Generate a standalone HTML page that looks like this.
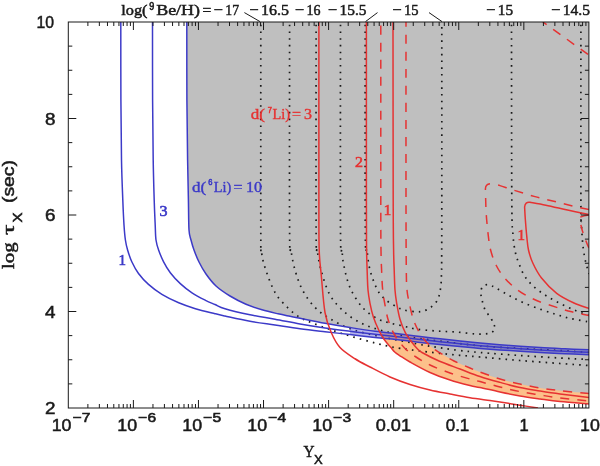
<!DOCTYPE html>
<html><head><meta charset="utf-8"><title>chart</title>
<style>html,body{margin:0;padding:0;background:#fff;}body{width:600px;height:466px;overflow:hidden;font-family:"Liberation Sans",sans-serif;}svg{display:block;will-change:transform;-webkit-font-smoothing:antialiased;}</style></head>
<body>
<svg width="600" height="466" viewBox="0 0 600 466">
<rect width="600" height="466" fill="#fff"/>
<defs><clipPath id="cp"><rect x="68.3" y="22.0" width="520.6" height="386.0"/></clipPath></defs>
<g clip-path="url(#cp)">
<path d="M366.40,22.00 C366.40,51.67 366.37,162.00 366.40,200.00 C366.43,238.00 366.45,237.50 366.60,250.00 C366.75,262.50 367.07,268.33 367.30,275.00 C367.53,281.67 367.55,285.28 368.00,290.00 C368.45,294.72 369.12,298.85 370.00,303.30 C370.88,307.75 371.85,312.25 373.30,316.70 C374.75,321.15 376.92,326.23 378.70,330.00 C380.48,333.77 382.00,336.42 384.00,339.30 C386.00,342.18 388.92,345.18 390.70,347.30 C392.48,349.42 393.15,350.58 394.70,352.00 C396.25,353.42 397.45,354.13 400.00,355.80 C402.55,357.47 405.00,359.22 410.00,362.00 C415.00,364.78 423.33,369.50 430.00,372.50 C436.67,375.50 443.33,377.83 450.00,380.00 C456.67,382.17 465.00,384.25 470.00,385.50 C475.00,386.75 475.00,386.42 480.00,387.50 C485.00,388.58 493.33,390.58 500.00,392.00 C506.67,393.42 513.33,394.83 520.00,396.00 C526.67,397.17 533.33,398.07 540.00,399.00 C546.67,399.93 551.83,400.77 560.00,401.60 C568.17,402.43 584.17,403.60 589.00,404.00 L590.9,404.0 L590.9,22.0 Z" fill="#fcc08a"/>
<path d="M186.80,22.00 C186.82,35.00 186.77,77.00 186.90,100.00 C187.03,123.00 187.35,143.33 187.60,160.00 C187.85,176.67 188.17,188.33 188.40,200.00 C188.63,211.67 188.57,223.33 189.00,230.00 C189.43,236.67 190.17,236.67 191.00,240.00 C191.83,243.33 192.67,246.33 194.00,250.00 C195.33,253.67 197.00,258.00 199.00,262.00 C201.00,266.00 203.17,270.00 206.00,274.00 C208.83,278.00 212.00,282.33 216.00,286.00 C220.00,289.67 225.00,292.97 230.00,296.00 C235.00,299.03 240.67,301.90 246.00,304.20 C251.33,306.50 256.67,308.20 262.00,309.80 C267.33,311.40 273.33,312.72 278.00,313.80 C282.67,314.88 286.33,315.55 290.00,316.30 C293.67,317.05 294.17,317.14 300.00,318.30 C305.83,319.46 316.67,321.72 325.00,323.25 C333.33,324.78 341.67,326.17 350.00,327.50 C358.33,328.83 366.67,330.17 375.00,331.25 C383.33,332.33 392.50,333.12 400.00,334.00 C407.50,334.88 413.33,335.70 420.00,336.50 C426.67,337.30 433.33,338.05 440.00,338.80 C446.67,339.55 453.33,340.30 460.00,341.00 C466.67,341.70 471.67,342.25 480.00,343.00 C488.33,343.75 500.00,344.73 510.00,345.50 C520.00,346.27 530.83,347.05 540.00,347.60 C549.17,348.15 556.83,348.45 565.00,348.80 C573.17,349.15 585.00,349.55 589.00,349.70 L590.9,350.0 L590.9,22.0 Z" fill="#bfbfbf"/>
<path d="M406.00,22.00 C406.00,51.67 405.95,158.67 406.00,200.00 C406.05,241.33 406.13,255.00 406.30,270.00 C406.47,285.00 406.50,284.45 407.00,290.00 C407.50,295.55 408.25,298.42 409.30,303.30 C410.35,308.18 411.73,314.63 413.30,319.30 C414.87,323.97 416.70,327.73 418.70,331.30 C420.70,334.87 423.08,338.03 425.30,340.70 C427.52,343.37 429.92,345.48 432.00,347.30 C434.08,349.12 434.13,349.32 437.80,351.60 C441.47,353.88 448.63,358.27 454.00,361.00 C459.37,363.73 465.67,366.17 470.00,368.00 C474.33,369.83 475.00,370.17 480.00,372.00 C485.00,373.83 493.33,377.00 500.00,379.00 C506.67,381.00 513.33,382.50 520.00,384.00 C526.67,385.50 533.33,386.90 540.00,388.00 C546.67,389.10 551.83,389.67 560.00,390.60 C568.17,391.53 584.17,393.10 589.00,393.60 L590.9,393.6 L590.9,22.0 Z" fill="#bfbfbf"/>
<path d="M260.80,22.00 C260.80,56.67 260.72,192.00 260.80,230.00 C260.88,268.00 260.60,243.75 261.30,250.00 C262.00,256.25 262.72,260.42 265.00,267.50 C267.28,274.58 271.25,285.83 275.00,292.50 C278.75,299.17 283.33,303.33 287.50,307.50 C291.67,311.67 295.83,314.92 300.00,317.50 C304.17,320.08 307.50,321.00 312.50,323.00 C317.50,325.00 323.75,327.33 330.00,329.50 C336.25,331.67 342.50,333.75 350.00,336.00 C357.50,338.25 368.75,341.33 375.00,343.00 C381.25,344.67 383.33,345.10 387.50,346.00 C391.67,346.90 394.58,347.57 400.00,348.40 C405.42,349.23 411.67,350.00 420.00,351.00 C428.33,352.00 440.00,353.40 450.00,354.40 C460.00,355.40 468.33,355.98 480.00,357.00 C491.67,358.02 506.67,359.42 520.00,360.50 C533.33,361.58 548.50,362.67 560.00,363.50 C571.50,364.33 584.17,365.17 589.00,365.50" fill="none" stroke="#1a1a1a" stroke-width="1.7" stroke-dasharray="1.6 5.1" stroke-dashoffset="3.8" stroke-linecap="butt"/>
<path d="M289.60,22.00 C289.60,56.67 289.37,192.00 289.60,230.00 C289.83,268.00 290.10,243.33 291.00,250.00 C291.90,256.67 293.08,263.33 295.00,270.00 C296.92,276.67 299.17,283.75 302.50,290.00 C305.83,296.25 310.42,302.71 315.00,307.50 C319.58,312.29 324.17,315.21 330.00,318.75 C335.83,322.29 342.50,325.96 350.00,328.75 C357.50,331.54 366.67,333.54 375.00,335.50 C383.33,337.46 392.50,339.00 400.00,340.50 C407.50,342.00 413.67,343.33 420.00,344.50 C426.33,345.67 431.67,346.53 438.00,347.50 C444.33,348.47 451.00,349.47 458.00,350.30 C465.00,351.13 469.67,351.63 480.00,352.50 C490.33,353.37 506.67,354.58 520.00,355.50 C533.33,356.42 548.50,357.33 560.00,358.00 C571.50,358.67 584.17,359.25 589.00,359.50" fill="none" stroke="#1a1a1a" stroke-width="1.7" stroke-dasharray="1.6 5.1" stroke-dashoffset="3.8" stroke-linecap="butt"/>
<path d="M316.10,22.00 C316.10,56.67 315.90,192.00 316.10,230.00 C316.30,268.00 316.48,243.33 317.30,250.00 C318.12,256.67 318.88,262.50 321.00,270.00 C323.12,277.50 326.00,287.92 330.00,295.00 C334.00,302.08 339.58,307.71 345.00,312.50 C350.42,317.29 356.67,320.83 362.50,323.75 C368.33,326.67 373.75,328.12 380.00,330.00 C386.25,331.88 393.33,333.58 400.00,335.00 C406.67,336.42 411.67,337.28 420.00,338.50 C428.33,339.72 440.00,341.08 450.00,342.30 C460.00,343.52 468.33,344.77 480.00,345.80 C491.67,346.83 506.67,347.72 520.00,348.50 C533.33,349.28 548.50,349.83 560.00,350.50 C571.50,351.17 584.17,352.17 589.00,352.50" fill="none" stroke="#1a1a1a" stroke-width="1.7" stroke-dasharray="1.6 5.1" stroke-dashoffset="3.8" stroke-linecap="butt"/>
<path d="M340.50,22.00 C340.50,56.67 340.25,192.00 340.50,230.00 C340.75,268.00 341.46,244.17 342.00,250.00 C342.54,255.83 342.42,258.75 343.75,265.00 C345.08,271.25 346.88,280.42 350.00,287.50 C353.12,294.58 357.92,302.29 362.50,307.50 C367.08,312.71 372.92,316.17 377.50,318.75 C382.08,321.33 385.75,321.79 390.00,323.00 C394.25,324.21 398.67,325.00 403.00,326.00 C407.33,327.00 410.50,328.17 416.00,329.00 C421.50,329.83 429.33,330.50 436.00,331.00 C442.67,331.50 449.33,331.50 456.00,332.00 C462.67,332.50 470.50,333.77 476.00,334.00 C481.50,334.23 485.90,334.15 489.00,333.40 C492.10,332.65 493.80,331.12 494.60,329.50 C495.40,327.88 494.47,325.62 493.80,323.70 C493.13,321.78 492.07,320.35 490.60,318.00 C489.13,315.65 486.43,312.63 485.00,309.60 C483.57,306.57 482.70,302.73 482.00,299.80 C481.30,296.87 480.63,294.27 480.80,292.00 C480.97,289.73 481.73,287.42 483.00,286.20 C484.27,284.98 486.23,284.40 488.40,284.70 C490.57,285.00 492.57,286.20 496.00,288.00 C499.43,289.80 504.33,293.00 509.00,295.50 C513.67,298.00 518.58,300.65 524.00,303.00 C529.42,305.35 536.05,307.67 541.50,309.60 C546.95,311.53 552.00,313.15 556.70,314.60 C561.40,316.05 565.18,317.23 569.70,318.30 C574.22,319.37 580.58,320.38 583.80,321.00 C587.02,321.62 588.13,321.83 589.00,322.00" fill="none" stroke="#1a1a1a" stroke-width="1.7" stroke-dasharray="1.6 5.1" stroke-dashoffset="3.8" stroke-linecap="butt"/>
<path d="M365.20,22.00 C365.22,56.67 365.00,192.00 365.30,230.00 C365.60,268.00 366.22,243.33 367.00,250.00 C367.78,256.67 368.25,263.33 370.00,270.00 C371.75,276.67 374.83,285.00 377.50,290.00 C380.17,295.00 382.75,297.17 386.00,300.00 C389.25,302.83 394.00,305.33 397.00,307.00 C400.00,308.67 400.83,309.20 404.00,310.00 C407.17,310.80 412.83,311.63 416.00,311.80 C419.17,311.97 420.67,311.63 423.00,311.00 C425.33,310.37 427.58,309.83 430.00,308.00 C432.42,306.17 435.73,303.33 437.50,300.00 C439.27,296.67 439.93,292.33 440.60,288.00 C441.27,283.67 441.32,279.50 441.50,274.00 C441.68,268.50 441.65,267.33 441.70,255.00 C441.75,242.67 441.78,238.83 441.80,200.00 C441.82,161.17 441.80,51.67 441.80,22.00" fill="none" stroke="#1a1a1a" stroke-width="1.7" stroke-dasharray="1.6 5.1" stroke-dashoffset="3.8" stroke-linecap="butt"/>
<path d="M511.50,22.00 C511.55,51.67 511.55,164.50 511.80,200.00 C512.05,235.50 512.38,226.17 513.00,235.00 C513.62,243.83 514.53,248.33 515.50,253.00 C516.47,257.67 517.38,259.33 518.80,263.00 C520.22,266.67 521.67,271.20 524.00,275.00 C526.33,278.80 529.17,282.38 532.80,285.80 C536.43,289.22 541.10,292.47 545.80,295.50 C550.50,298.53 555.97,301.47 561.00,304.00 C566.03,306.53 571.33,308.78 576.00,310.70 C580.67,312.62 586.83,314.70 589.00,315.50" fill="none" stroke="#1a1a1a" stroke-width="1.7" stroke-dasharray="1.6 5.1" stroke-dashoffset="3.8" stroke-linecap="butt"/>
<path d="M580.90,22.00 C580.90,52.50 580.83,171.67 580.90,205.00 C580.97,238.33 581.08,216.67 581.30,222.00 C581.52,227.33 581.88,232.67 582.20,237.00 C582.52,241.33 582.80,244.67 583.20,248.00 C583.60,251.33 584.10,254.33 584.60,257.00 C585.10,259.67 585.63,261.75 586.20,264.00 C586.77,266.25 587.53,268.83 588.00,270.50 C588.47,272.17 588.83,273.42 589.00,274.00" fill="none" stroke="#1a1a1a" stroke-width="1.7" stroke-dasharray="1.6 5.1" stroke-dashoffset="3.8" stroke-linecap="butt"/>
<path d="M350.00,327.50 C354.17,328.12 366.67,330.17 375.00,331.25 C383.33,332.33 392.50,333.12 400.00,334.00 C407.50,334.88 413.33,335.70 420.00,336.50 C426.67,337.30 433.33,338.05 440.00,338.80 C446.67,339.55 453.33,340.30 460.00,341.00 C466.67,341.70 471.67,342.25 480.00,343.00 C488.33,343.75 500.00,344.73 510.00,345.50 C520.00,346.27 530.83,347.05 540.00,347.60 C549.17,348.15 556.83,348.45 565.00,348.80 C573.17,349.15 585.00,349.55 589.00,349.70 L589.00,354.80 L589.00,354.80 C585.00,354.62 573.17,354.10 565.00,353.70 C556.83,353.30 549.17,352.92 540.00,352.40 C530.83,351.88 520.00,351.27 510.00,350.60 C500.00,349.93 488.33,349.08 480.00,348.40 C471.67,347.72 466.67,347.15 460.00,346.50 C453.33,345.85 446.67,345.18 440.00,344.50 C433.33,343.82 426.67,343.15 420.00,342.40 C413.33,341.65 407.50,340.82 400.00,340.00 C392.50,339.18 383.33,338.42 375.00,337.50 C366.67,336.58 354.17,335.00 350.00,334.50 Z" fill="#3c3ac8" fill-opacity="0.38"/>
<path d="M186.80,22.00 C186.82,35.00 186.77,77.00 186.90,100.00 C187.03,123.00 187.35,143.33 187.60,160.00 C187.85,176.67 188.17,188.33 188.40,200.00 C188.63,211.67 188.57,223.33 189.00,230.00 C189.43,236.67 190.17,236.67 191.00,240.00 C191.83,243.33 192.67,246.33 194.00,250.00 C195.33,253.67 197.00,258.00 199.00,262.00 C201.00,266.00 203.17,270.00 206.00,274.00 C208.83,278.00 212.00,282.33 216.00,286.00 C220.00,289.67 225.00,292.97 230.00,296.00 C235.00,299.03 240.67,301.90 246.00,304.20 C251.33,306.50 256.67,308.20 262.00,309.80 C267.33,311.40 273.33,312.72 278.00,313.80 C282.67,314.88 286.33,315.55 290.00,316.30 C293.67,317.05 294.17,317.14 300.00,318.30 C305.83,319.46 316.67,321.72 325.00,323.25 C333.33,324.78 341.67,326.17 350.00,327.50 C358.33,328.83 366.67,330.17 375.00,331.25 C383.33,332.33 392.50,333.12 400.00,334.00 C407.50,334.88 413.33,335.70 420.00,336.50 C426.67,337.30 433.33,338.05 440.00,338.80 C446.67,339.55 453.33,340.30 460.00,341.00 C466.67,341.70 471.67,342.25 480.00,343.00 C488.33,343.75 500.00,344.73 510.00,345.50 C520.00,346.27 530.83,347.05 540.00,347.60 C549.17,348.15 556.83,348.45 565.00,348.80 C573.17,349.15 585.00,349.55 589.00,349.70" fill="none" stroke="#3c3ac8" stroke-width="1.5"/>
<path d="M152.50,22.00 C152.52,35.00 152.48,77.00 152.60,100.00 C152.72,123.00 152.93,143.33 153.20,160.00 C153.47,176.67 153.87,189.17 154.20,200.00 C154.53,210.83 154.90,218.33 155.20,225.00 C155.50,231.67 155.43,235.83 156.00,240.00 C156.57,244.17 157.33,246.37 158.60,250.00 C159.87,253.63 161.65,258.02 163.60,261.80 C165.55,265.58 167.52,269.07 170.30,272.70 C173.08,276.33 176.68,280.25 180.30,283.60 C183.92,286.95 187.80,290.02 192.00,292.80 C196.20,295.58 201.67,298.35 205.50,300.30 C209.33,302.25 211.75,303.09 215.00,304.50 C218.25,305.91 219.17,307.03 225.00,308.75 C230.83,310.47 241.67,313.05 250.00,314.80 C258.33,316.55 266.67,317.72 275.00,319.25 C283.33,320.78 291.67,322.54 300.00,324.00 C308.33,325.46 316.67,326.79 325.00,328.00 C333.33,329.21 341.67,330.21 350.00,331.25 C358.33,332.29 366.67,333.27 375.00,334.25 C383.33,335.23 392.50,336.23 400.00,337.10 C407.50,337.98 413.33,338.73 420.00,339.50 C426.67,340.27 433.33,340.98 440.00,341.70 C446.67,342.42 453.33,343.13 460.00,343.80 C466.67,344.47 471.67,345.00 480.00,345.70 C488.33,346.40 500.00,347.28 510.00,348.00 C520.00,348.72 530.83,349.45 540.00,350.00 C549.17,350.55 556.83,350.92 565.00,351.30 C573.17,351.68 585.00,352.13 589.00,352.30" fill="none" stroke="#3c3ac8" stroke-width="1.5"/>
<path d="M120.80,22.00 C120.82,35.00 120.78,77.00 120.90,100.00 C121.02,123.00 121.18,143.33 121.50,160.00 C121.82,176.67 122.38,189.17 122.80,200.00 C123.22,210.83 123.57,218.33 124.00,225.00 C124.43,231.67 124.80,235.83 125.40,240.00 C126.00,244.17 126.53,246.37 127.60,250.00 C128.67,253.63 129.98,257.88 131.80,261.80 C133.62,265.72 135.72,269.73 138.50,273.50 C141.28,277.27 144.60,280.92 148.50,284.40 C152.40,287.88 156.87,291.33 161.90,294.40 C166.93,297.47 173.12,300.42 178.70,302.80 C184.28,305.18 189.35,306.88 195.40,308.70 C201.45,310.52 210.07,312.48 215.00,313.70 C219.93,314.92 219.17,314.74 225.00,316.00 C230.83,317.26 241.67,319.75 250.00,321.25 C258.33,322.75 266.67,323.75 275.00,325.00 C283.33,326.25 291.67,327.62 300.00,328.75 C308.33,329.88 316.67,330.79 325.00,331.75 C333.33,332.71 341.67,333.54 350.00,334.50 C358.33,335.46 366.67,336.58 375.00,337.50 C383.33,338.42 392.50,339.18 400.00,340.00 C407.50,340.82 413.33,341.65 420.00,342.40 C426.67,343.15 433.33,343.82 440.00,344.50 C446.67,345.18 453.33,345.85 460.00,346.50 C466.67,347.15 471.67,347.72 480.00,348.40 C488.33,349.08 500.00,349.93 510.00,350.60 C520.00,351.27 530.83,351.88 540.00,352.40 C549.17,352.92 556.83,353.30 565.00,353.70 C573.17,354.10 585.00,354.62 589.00,354.80" fill="none" stroke="#3c3ac8" stroke-width="1.5"/>
<path d="M318.90,22.00 C318.90,51.67 318.85,162.00 318.90,200.00 C318.95,238.00 318.81,237.50 319.20,250.00 C319.59,262.50 320.28,264.58 321.25,275.00 C322.22,285.42 323.33,302.92 325.00,312.50 C326.67,322.08 328.75,326.67 331.25,332.50 C333.75,338.33 336.04,343.12 340.00,347.50 C343.96,351.88 350.00,355.50 355.00,358.75 C360.00,362.00 364.17,363.96 370.00,367.00 C375.83,370.04 383.33,374.08 390.00,377.00 C396.67,379.92 403.33,382.33 410.00,384.50 C416.67,386.67 423.33,388.42 430.00,390.00 C436.67,391.58 443.33,392.72 450.00,394.00 C456.67,395.28 463.33,396.62 470.00,397.70 C476.67,398.78 485.00,399.78 490.00,400.50 C495.00,401.22 495.00,401.22 500.00,402.00 C505.00,402.78 513.67,404.20 520.00,405.20 C526.33,406.20 535.00,407.53 538.00,408.00" fill="none" stroke="#e63232" stroke-width="1.5"/>
<path d="M366.40,22.00 C366.40,51.67 366.37,162.00 366.40,200.00 C366.43,238.00 366.45,237.50 366.60,250.00 C366.75,262.50 367.07,268.33 367.30,275.00 C367.53,281.67 367.55,285.28 368.00,290.00 C368.45,294.72 369.12,298.85 370.00,303.30 C370.88,307.75 371.85,312.25 373.30,316.70 C374.75,321.15 376.92,326.23 378.70,330.00 C380.48,333.77 382.00,336.42 384.00,339.30 C386.00,342.18 388.92,345.18 390.70,347.30 C392.48,349.42 393.15,350.58 394.70,352.00 C396.25,353.42 397.45,354.13 400.00,355.80 C402.55,357.47 405.00,359.22 410.00,362.00 C415.00,364.78 423.33,369.50 430.00,372.50 C436.67,375.50 443.33,377.83 450.00,380.00 C456.67,382.17 465.00,384.25 470.00,385.50 C475.00,386.75 475.00,386.42 480.00,387.50 C485.00,388.58 493.33,390.58 500.00,392.00 C506.67,393.42 513.33,394.83 520.00,396.00 C526.67,397.17 533.33,398.07 540.00,399.00 C546.67,399.93 551.83,400.77 560.00,401.60 C568.17,402.43 584.17,403.60 589.00,404.00" fill="none" stroke="#e63232" stroke-width="1.5"/>
<path d="M393.00,22.00 C393.03,51.67 393.10,162.00 393.20,200.00 C393.30,238.00 393.43,238.33 393.60,250.00 C393.77,261.67 393.97,263.33 394.20,270.00 C394.43,276.67 394.58,284.45 395.00,290.00 C395.42,295.55 395.87,298.42 396.70,303.30 C397.53,308.18 398.57,314.40 400.00,319.30 C401.43,324.20 403.52,329.13 405.30,332.70 C407.08,336.27 408.70,338.03 410.70,340.70 C412.70,343.37 415.42,346.73 417.30,348.70 C419.18,350.67 418.38,350.45 422.00,352.50 C425.62,354.55 432.67,358.25 439.00,361.00 C445.33,363.75 453.17,366.42 460.00,369.00 C466.83,371.58 473.33,374.27 480.00,376.50 C486.67,378.73 493.33,380.55 500.00,382.40 C506.67,384.25 513.33,386.17 520.00,387.60 C526.67,389.03 533.33,389.93 540.00,391.00 C546.67,392.07 551.83,392.90 560.00,394.00 C568.17,395.10 584.17,397.00 589.00,397.60" fill="none" stroke="#e63232" stroke-width="1.5"/>
<path d="M589.00,214.60 C585.42,213.83 574.70,211.57 567.50,210.00 C560.30,208.43 552.05,206.48 545.80,205.20 C539.55,203.92 532.63,202.78 530.00,202.30 Q525.2,201.5 524.6,207 L524.60,207.00 C524.72,209.00 524.93,214.05 525.30,219.00 C525.67,223.95 526.27,231.53 526.80,236.70 C527.33,241.87 527.50,245.62 528.50,250.00 C529.50,254.38 530.63,258.33 532.80,263.00 C534.97,267.67 537.52,272.95 541.50,278.00 C545.48,283.05 551.28,289.13 556.70,293.30 C562.12,297.47 568.62,300.47 574.00,303.00 C579.38,305.53 586.50,307.58 589.00,308.50" fill="none" stroke="#e63232" stroke-width="1.5"/>
<path d="M380.80,22.00 C380.80,51.67 380.77,162.00 380.80,200.00 C380.83,238.00 380.83,237.50 381.00,250.00 C381.17,262.50 381.52,268.33 381.80,275.00 C382.08,281.67 382.22,285.28 382.70,290.00 C383.18,294.72 383.82,298.42 384.70,303.30 C385.58,308.18 386.57,314.40 388.00,319.30 C389.43,324.20 391.52,329.13 393.30,332.70 C395.08,336.27 396.70,338.03 398.70,340.70 C400.70,343.37 402.42,345.98 405.30,348.70 C408.18,351.42 411.88,354.28 416.00,357.00 C420.12,359.72 424.33,362.33 430.00,365.00 C435.67,367.67 443.33,370.67 450.00,373.00 C456.67,375.33 465.00,377.57 470.00,379.00 C475.00,380.43 475.00,380.27 480.00,381.60 C485.00,382.93 493.33,385.33 500.00,387.00 C506.67,388.67 513.33,390.27 520.00,391.60 C526.67,392.93 533.33,393.93 540.00,395.00 C546.67,396.07 551.83,397.00 560.00,398.00 C568.17,399.00 584.17,400.50 589.00,401.00" fill="none" stroke="#e63232" stroke-width="1.5" stroke-dasharray="9 8" stroke-dashoffset="13.2"/>
<path d="M406.00,22.00 C406.00,51.67 405.95,158.67 406.00,200.00 C406.05,241.33 406.13,255.00 406.30,270.00 C406.47,285.00 406.50,284.45 407.00,290.00 C407.50,295.55 408.25,298.42 409.30,303.30 C410.35,308.18 411.73,314.63 413.30,319.30 C414.87,323.97 416.70,327.73 418.70,331.30 C420.70,334.87 423.08,338.03 425.30,340.70 C427.52,343.37 429.92,345.48 432.00,347.30 C434.08,349.12 434.13,349.32 437.80,351.60 C441.47,353.88 448.63,358.27 454.00,361.00 C459.37,363.73 465.67,366.17 470.00,368.00 C474.33,369.83 475.00,370.17 480.00,372.00 C485.00,373.83 493.33,377.00 500.00,379.00 C506.67,381.00 513.33,382.50 520.00,384.00 C526.67,385.50 533.33,386.90 540.00,388.00 C546.67,389.10 551.83,389.67 560.00,390.60 C568.17,391.53 584.17,393.10 589.00,393.60" fill="none" stroke="#e63232" stroke-width="1.5" stroke-dasharray="9 8" stroke-dashoffset="4.1"/>
<path d="M589.00,209.60 C586.50,209.05 579.38,207.57 574.00,206.30 C568.62,205.03 563.20,203.62 556.70,202.00 C550.20,200.38 542.23,198.60 535.00,196.60 C527.77,194.60 519.13,191.83 513.30,190.00 C507.47,188.17 503.38,186.60 500.00,185.60 C496.62,184.60 494.17,184.27 493.00,184.00 Q485.6,182.8 485.4,189 L485.40,189.00 C485.43,190.33 485.45,192.67 485.60,197.00 C485.75,201.33 485.83,208.38 486.30,215.00 C486.77,221.62 487.68,230.87 488.40,236.70 C489.12,242.53 489.33,245.28 490.60,250.00 C491.87,254.72 493.65,260.33 496.00,265.00 C498.35,269.67 501.08,273.83 504.70,278.00 C508.32,282.17 512.65,286.37 517.70,290.00 C522.75,293.63 528.50,296.90 535.00,299.80 C541.50,302.70 550.57,305.40 556.70,307.40 C562.83,309.40 566.42,310.45 571.80,311.80 C577.18,313.15 586.13,314.88 589.00,315.50" fill="none" stroke="#e63232" stroke-width="1.5" stroke-dasharray="9 8"/>
<path d="M542.6,21.7 L589,55.2" fill="none" stroke="#e63232" stroke-width="1.5" stroke-dasharray="9 8" stroke-dashoffset="4"/>
<path d="M589,214.9 Q583,215.5 579.6,217.6 Q580.5,224 582,229.5 Q584.5,238 588.9,248" fill="none" stroke="#e63232" stroke-width="1.5" stroke-dasharray="9 8"/>
</g>
<g stroke="#1a1a1a" stroke-width="1" fill="none" shape-rendering="auto">
<rect x="68.3" y="22.0" width="520.6" height="386.0"/>
<path d="M87.89,408.0V404.0 M87.89,22.0V26.0 M99.35,408.0V404.0 M99.35,22.0V26.0 M107.48,408.0V404.0 M107.48,22.0V26.0 M113.79,408.0V404.0 M113.79,22.0V26.0 M118.94,408.0V404.0 M118.94,22.0V26.0 M123.29,408.0V404.0 M123.29,22.0V26.0 M127.07,408.0V404.0 M127.07,22.0V26.0 M130.40,408.0V404.0 M130.40,22.0V26.0 M133.38,408.0V400.0 M133.38,22.0V30.0 M152.96,408.0V404.0 M152.96,22.0V26.0 M164.42,408.0V404.0 M164.42,22.0V26.0 M172.55,408.0V404.0 M172.55,22.0V26.0 M178.86,408.0V404.0 M178.86,22.0V26.0 M184.01,408.0V404.0 M184.01,22.0V26.0 M188.37,408.0V404.0 M188.37,22.0V26.0 M192.14,408.0V404.0 M192.14,22.0V26.0 M195.47,408.0V404.0 M195.47,22.0V26.0 M198.45,408.0V400.0 M198.45,22.0V30.0 M218.04,408.0V404.0 M218.04,22.0V26.0 M229.50,408.0V404.0 M229.50,22.0V26.0 M237.63,408.0V404.0 M237.63,22.0V26.0 M243.94,408.0V404.0 M243.94,22.0V26.0 M249.09,408.0V404.0 M249.09,22.0V26.0 M253.44,408.0V404.0 M253.44,22.0V26.0 M257.22,408.0V404.0 M257.22,22.0V26.0 M260.55,408.0V404.0 M260.55,22.0V26.0 M263.53,408.0V400.0 M263.53,22.0V30.0 M283.11,408.0V404.0 M283.11,22.0V26.0 M294.57,408.0V404.0 M294.57,22.0V26.0 M302.70,408.0V404.0 M302.70,22.0V26.0 M309.01,408.0V404.0 M309.01,22.0V26.0 M314.16,408.0V404.0 M314.16,22.0V26.0 M318.52,408.0V404.0 M318.52,22.0V26.0 M322.29,408.0V404.0 M322.29,22.0V26.0 M325.62,408.0V404.0 M325.62,22.0V26.0 M328.60,408.0V400.0 M328.60,22.0V30.0 M348.19,408.0V404.0 M348.19,22.0V26.0 M359.65,408.0V404.0 M359.65,22.0V26.0 M367.78,408.0V404.0 M367.78,22.0V26.0 M374.09,408.0V404.0 M374.09,22.0V26.0 M379.24,408.0V404.0 M379.24,22.0V26.0 M383.59,408.0V404.0 M383.59,22.0V26.0 M387.37,408.0V404.0 M387.37,22.0V26.0 M390.70,408.0V404.0 M390.70,22.0V26.0 M393.68,408.0V400.0 M393.68,22.0V30.0 M413.26,408.0V404.0 M413.26,22.0V26.0 M424.72,408.0V404.0 M424.72,22.0V26.0 M432.85,408.0V404.0 M432.85,22.0V26.0 M439.16,408.0V404.0 M439.16,22.0V26.0 M444.31,408.0V404.0 M444.31,22.0V26.0 M448.67,408.0V404.0 M448.67,22.0V26.0 M452.44,408.0V404.0 M452.44,22.0V26.0 M455.77,408.0V404.0 M455.77,22.0V26.0 M458.75,408.0V400.0 M458.75,22.0V30.0 M478.34,408.0V404.0 M478.34,22.0V26.0 M489.80,408.0V404.0 M489.80,22.0V26.0 M497.93,408.0V404.0 M497.93,22.0V26.0 M504.24,408.0V404.0 M504.24,22.0V26.0 M509.39,408.0V404.0 M509.39,22.0V26.0 M513.74,408.0V404.0 M513.74,22.0V26.0 M517.52,408.0V404.0 M517.52,22.0V26.0 M520.85,408.0V404.0 M520.85,22.0V26.0 M523.83,408.0V400.0 M523.83,22.0V30.0 M543.41,408.0V404.0 M543.41,22.0V26.0 M554.87,408.0V404.0 M554.87,22.0V26.0 M563.00,408.0V404.0 M563.00,22.0V26.0 M569.31,408.0V404.0 M569.31,22.0V26.0 M574.46,408.0V404.0 M574.46,22.0V26.0 M578.82,408.0V404.0 M578.82,22.0V26.0 M582.59,408.0V404.0 M582.59,22.0V26.0 M585.92,408.0V404.0 M585.92,22.0V26.0 M68.3,383.88H72.3 M588.9,383.88H584.9 M68.3,359.75H72.3 M588.9,359.75H584.9 M68.3,335.62H72.3 M588.9,335.62H584.9 M68.3,311.50H76.3 M588.9,311.50H580.9 M68.3,287.38H72.3 M588.9,287.38H584.9 M68.3,263.25H72.3 M588.9,263.25H584.9 M68.3,239.12H72.3 M588.9,239.12H584.9 M68.3,215.00H76.3 M588.9,215.00H580.9 M68.3,190.88H72.3 M588.9,190.88H584.9 M68.3,166.75H72.3 M588.9,166.75H584.9 M68.3,142.62H72.3 M588.9,142.62H584.9 M68.3,118.50H76.3 M588.9,118.50H580.9 M68.3,94.38H72.3 M588.9,94.38H584.9 M68.3,70.25H72.3 M588.9,70.25H584.9 M68.3,46.12H72.3 M588.9,46.12H584.9"/>
<path d="M244.4,12.6L260,21.6 M377.5,12.6L365.5,21.6 M429,12.6L442,21.6"/>
</g>
<text x="36.50" y="28.00" font-size="16.5" font-family="Liberation Sans, sans-serif" fill="#1a1a1a" text-anchor="start" textLength="17.50" lengthAdjust="spacingAndGlyphs" stroke="#1a1a1a" stroke-width="0.50" >10</text>
<text x="45.00" y="124.50" font-size="16.5" font-family="Liberation Sans, sans-serif" fill="#1a1a1a" text-anchor="start" textLength="10.50" lengthAdjust="spacingAndGlyphs" stroke="#1a1a1a" stroke-width="0.50" >8</text>
<text x="45.00" y="221.00" font-size="16.5" font-family="Liberation Sans, sans-serif" fill="#1a1a1a" text-anchor="start" textLength="10.50" lengthAdjust="spacingAndGlyphs" stroke="#1a1a1a" stroke-width="0.50" >6</text>
<text x="45.00" y="317.50" font-size="16.5" font-family="Liberation Sans, sans-serif" fill="#1a1a1a" text-anchor="start" textLength="10.50" lengthAdjust="spacingAndGlyphs" stroke="#1a1a1a" stroke-width="0.50" >4</text>
<text x="45.00" y="414.00" font-size="16.5" font-family="Liberation Sans, sans-serif" fill="#1a1a1a" text-anchor="start" textLength="10.50" lengthAdjust="spacingAndGlyphs" stroke="#1a1a1a" stroke-width="0.50" >2</text>
<text x="51.70" y="430.50" font-size="16.5" font-family="Liberation Sans, sans-serif" fill="#1a1a1a" text-anchor="start" textLength="19.80" lengthAdjust="spacingAndGlyphs" stroke="#1a1a1a" stroke-width="0.50" >10</text>
<text x="72.70" y="422.30" font-size="13.5" font-family="Liberation Sans, sans-serif" fill="#1a1a1a" text-anchor="start" textLength="17.80" lengthAdjust="spacingAndGlyphs" stroke="#1a1a1a" stroke-width="0.60" >−7</text>
<text x="117.30" y="430.50" font-size="16.5" font-family="Liberation Sans, sans-serif" fill="#1a1a1a" text-anchor="start" textLength="19.80" lengthAdjust="spacingAndGlyphs" stroke="#1a1a1a" stroke-width="0.50" >10</text>
<text x="138.30" y="422.30" font-size="13.5" font-family="Liberation Sans, sans-serif" fill="#1a1a1a" text-anchor="start" textLength="17.80" lengthAdjust="spacingAndGlyphs" stroke="#1a1a1a" stroke-width="0.60" >−6</text>
<text x="182.30" y="430.50" font-size="16.5" font-family="Liberation Sans, sans-serif" fill="#1a1a1a" text-anchor="start" textLength="19.80" lengthAdjust="spacingAndGlyphs" stroke="#1a1a1a" stroke-width="0.50" >10</text>
<text x="203.30" y="422.30" font-size="13.5" font-family="Liberation Sans, sans-serif" fill="#1a1a1a" text-anchor="start" textLength="17.80" lengthAdjust="spacingAndGlyphs" stroke="#1a1a1a" stroke-width="0.60" >−5</text>
<text x="247.30" y="430.50" font-size="16.5" font-family="Liberation Sans, sans-serif" fill="#1a1a1a" text-anchor="start" textLength="19.80" lengthAdjust="spacingAndGlyphs" stroke="#1a1a1a" stroke-width="0.50" >10</text>
<text x="268.30" y="422.30" font-size="13.5" font-family="Liberation Sans, sans-serif" fill="#1a1a1a" text-anchor="start" textLength="17.80" lengthAdjust="spacingAndGlyphs" stroke="#1a1a1a" stroke-width="0.60" >−4</text>
<text x="312.30" y="430.50" font-size="16.5" font-family="Liberation Sans, sans-serif" fill="#1a1a1a" text-anchor="start" textLength="19.80" lengthAdjust="spacingAndGlyphs" stroke="#1a1a1a" stroke-width="0.50" >10</text>
<text x="333.30" y="422.30" font-size="13.5" font-family="Liberation Sans, sans-serif" fill="#1a1a1a" text-anchor="start" textLength="17.80" lengthAdjust="spacingAndGlyphs" stroke="#1a1a1a" stroke-width="0.60" >−3</text>
<text x="375.70" y="430.50" font-size="16.5" font-family="Liberation Sans, sans-serif" fill="#1a1a1a" text-anchor="start" textLength="35.30" lengthAdjust="spacingAndGlyphs" stroke="#1a1a1a" stroke-width="0.50" >0.01</text>
<text x="445.70" y="430.50" font-size="16.5" font-family="Liberation Sans, sans-serif" fill="#1a1a1a" text-anchor="start" textLength="23.60" lengthAdjust="spacingAndGlyphs" stroke="#1a1a1a" stroke-width="0.50" >0.1</text>
<text x="519.50" y="430.50" font-size="16.5" font-family="Liberation Sans, sans-serif" fill="#1a1a1a" text-anchor="start" stroke="#1a1a1a" stroke-width="0.50" >1</text>
<text x="580.00" y="430.50" font-size="16.5" font-family="Liberation Sans, sans-serif" fill="#1a1a1a" text-anchor="start" textLength="19.80" lengthAdjust="spacingAndGlyphs" stroke="#1a1a1a" stroke-width="0.50" >10</text>
<text x="303.50" y="456.70" font-size="17.5" font-family="Liberation Serif, serif" fill="#1a1a1a" text-anchor="start" textLength="11.00" lengthAdjust="spacingAndGlyphs" stroke="#1a1a1a" stroke-width="0.50" >Y</text>
<text x="314.00" y="464.00" font-size="12.5" font-family="Liberation Sans, sans-serif" fill="#1a1a1a" text-anchor="start" textLength="8.70" lengthAdjust="spacingAndGlyphs" stroke="#1a1a1a" stroke-width="0.50" >X</text>
<text x="121.20" y="15.20" font-size="15.5" font-family="Liberation Serif, serif" fill="#1a1a1a" text-anchor="start" textLength="26.30" lengthAdjust="spacingAndGlyphs" stroke="#1a1a1a" stroke-width="0.50" >log(</text>
<text x="149.20" y="10.00" font-size="10.0" font-family="Liberation Sans, sans-serif" fill="#1a1a1a" text-anchor="start" textLength="5.00" lengthAdjust="spacingAndGlyphs" stroke="#1a1a1a" stroke-width="0.60" >9</text>
<text x="156.20" y="15.20" font-size="15.5" font-family="Liberation Serif, serif" fill="#1a1a1a" text-anchor="start" textLength="43.80" lengthAdjust="spacingAndGlyphs" stroke="#1a1a1a" stroke-width="0.50" >Be/H)</text>
<text x="202.50" y="15.20" font-size="15.5" font-family="Liberation Serif, serif" fill="#1a1a1a" text-anchor="start" textLength="8.80" lengthAdjust="spacingAndGlyphs" stroke="#1a1a1a" stroke-width="0.50" >=</text>
<text x="213.80" y="15.20" font-size="15.5" font-family="Liberation Serif, serif" fill="#1a1a1a" text-anchor="start" textLength="9.20" lengthAdjust="spacingAndGlyphs" stroke="#1a1a1a" stroke-width="0.50" >−</text>
<text x="225.30" y="15.20" font-size="15.5" font-family="Liberation Serif, serif" fill="#1a1a1a" text-anchor="start" textLength="13.80" lengthAdjust="spacingAndGlyphs" stroke="#1a1a1a" stroke-width="0.50" >17</text>
<text x="249.50" y="15.20" font-size="15.5" font-family="Liberation Serif, serif" fill="#1a1a1a" text-anchor="start" textLength="9.20" lengthAdjust="spacingAndGlyphs" stroke="#1a1a1a" stroke-width="0.50" >−</text>
<text x="261.00" y="15.20" font-size="15.5" font-family="Liberation Serif, serif" fill="#1a1a1a" text-anchor="start" textLength="28.00" lengthAdjust="spacingAndGlyphs" stroke="#1a1a1a" stroke-width="0.50" >16.5</text>
<text x="295.00" y="15.20" font-size="15.5" font-family="Liberation Serif, serif" fill="#1a1a1a" text-anchor="start" textLength="9.20" lengthAdjust="spacingAndGlyphs" stroke="#1a1a1a" stroke-width="0.50" >−</text>
<text x="306.50" y="15.20" font-size="15.5" font-family="Liberation Serif, serif" fill="#1a1a1a" text-anchor="start" textLength="14.00" lengthAdjust="spacingAndGlyphs" stroke="#1a1a1a" stroke-width="0.50" >16</text>
<text x="328.00" y="15.20" font-size="15.5" font-family="Liberation Serif, serif" fill="#1a1a1a" text-anchor="start" textLength="9.20" lengthAdjust="spacingAndGlyphs" stroke="#1a1a1a" stroke-width="0.50" >−</text>
<text x="339.50" y="15.20" font-size="15.5" font-family="Liberation Serif, serif" fill="#1a1a1a" text-anchor="start" textLength="27.00" lengthAdjust="spacingAndGlyphs" stroke="#1a1a1a" stroke-width="0.50" >15.5</text>
<text x="392.50" y="15.20" font-size="15.5" font-family="Liberation Serif, serif" fill="#1a1a1a" text-anchor="start" textLength="9.20" lengthAdjust="spacingAndGlyphs" stroke="#1a1a1a" stroke-width="0.50" >−</text>
<text x="404.00" y="15.20" font-size="15.5" font-family="Liberation Serif, serif" fill="#1a1a1a" text-anchor="start" textLength="14.60" lengthAdjust="spacingAndGlyphs" stroke="#1a1a1a" stroke-width="0.50" >15</text>
<text x="486.30" y="15.20" font-size="15.5" font-family="Liberation Serif, serif" fill="#1a1a1a" text-anchor="start" textLength="9.20" lengthAdjust="spacingAndGlyphs" stroke="#1a1a1a" stroke-width="0.50" >−</text>
<text x="497.80" y="15.20" font-size="15.5" font-family="Liberation Serif, serif" fill="#1a1a1a" text-anchor="start" textLength="15.30" lengthAdjust="spacingAndGlyphs" stroke="#1a1a1a" stroke-width="0.50" >15</text>
<text x="551.30" y="15.20" font-size="15.5" font-family="Liberation Serif, serif" fill="#1a1a1a" text-anchor="start" textLength="9.20" lengthAdjust="spacingAndGlyphs" stroke="#1a1a1a" stroke-width="0.50" >−</text>
<text x="562.80" y="15.20" font-size="15.5" font-family="Liberation Serif, serif" fill="#1a1a1a" text-anchor="start" textLength="27.20" lengthAdjust="spacingAndGlyphs" stroke="#1a1a1a" stroke-width="0.50" >14.5</text>
<text x="250.80" y="118.90" font-size="15.0" font-family="Liberation Serif, serif" fill="#e63232" text-anchor="start" textLength="14.20" lengthAdjust="spacingAndGlyphs" stroke="#e63232" stroke-width="0.40" >d(</text>
<text x="267.80" y="112.50" font-size="8.5" font-family="Liberation Sans, sans-serif" fill="#e63232" text-anchor="start" textLength="4.20" lengthAdjust="spacingAndGlyphs" stroke="#e63232" stroke-width="0.60" >7</text>
<text x="272.60" y="118.90" font-size="15.0" font-family="Liberation Serif, serif" fill="#e63232" text-anchor="start" textLength="17.50" lengthAdjust="spacingAndGlyphs" stroke="#e63232" stroke-width="0.40" >Li)</text>
<text x="292.00" y="118.90" font-size="15.0" font-family="Liberation Serif, serif" fill="#e63232" text-anchor="start" textLength="9.00" lengthAdjust="spacingAndGlyphs" stroke="#e63232" stroke-width="0.40" >=</text>
<text x="304.00" y="118.90" font-size="15.0" font-family="Liberation Serif, serif" fill="#e63232" text-anchor="start" textLength="8.00" lengthAdjust="spacingAndGlyphs" stroke="#e63232" stroke-width="0.40" >3</text>
<text x="192.00" y="191.60" font-size="15.0" font-family="Liberation Serif, serif" fill="#3c3ac8" text-anchor="start" textLength="14.20" lengthAdjust="spacingAndGlyphs" stroke="#3c3ac8" stroke-width="0.40" >d(</text>
<text x="208.30" y="185.20" font-size="8.5" font-family="Liberation Sans, sans-serif" fill="#3c3ac8" text-anchor="start" textLength="4.20" lengthAdjust="spacingAndGlyphs" stroke="#3c3ac8" stroke-width="0.60" >6</text>
<text x="213.70" y="191.60" font-size="15.0" font-family="Liberation Serif, serif" fill="#3c3ac8" text-anchor="start" textLength="17.50" lengthAdjust="spacingAndGlyphs" stroke="#3c3ac8" stroke-width="0.40" >Li)</text>
<text x="233.50" y="191.60" font-size="15.0" font-family="Liberation Serif, serif" fill="#3c3ac8" text-anchor="start" textLength="9.00" lengthAdjust="spacingAndGlyphs" stroke="#3c3ac8" stroke-width="0.40" >=</text>
<text x="246.00" y="191.60" font-size="15.0" font-family="Liberation Serif, serif" fill="#3c3ac8" text-anchor="start" textLength="16.00" lengthAdjust="spacingAndGlyphs" stroke="#3c3ac8" stroke-width="0.40" >10</text>
<text x="159.50" y="215.80" font-size="15.0" font-family="Liberation Serif, serif" fill="#3c3ac8" text-anchor="start" textLength="8.00" lengthAdjust="spacingAndGlyphs" stroke="#3c3ac8" stroke-width="0.60" >3</text>
<text x="118.60" y="264.80" font-size="15.0" font-family="Liberation Serif, serif" fill="#3c3ac8" text-anchor="start" stroke="#3c3ac8" stroke-width="0.60" >1</text>
<text x="355.00" y="166.80" font-size="15.0" font-family="Liberation Serif, serif" fill="#e63232" text-anchor="start" textLength="8.00" lengthAdjust="spacingAndGlyphs" stroke="#e63232" stroke-width="0.60" >2</text>
<text x="383.80" y="215.30" font-size="15.0" font-family="Liberation Serif, serif" fill="#e63232" text-anchor="start" stroke="#e63232" stroke-width="0.60" >1</text>
<text x="517.60" y="239.50" font-size="15.0" font-family="Liberation Serif, serif" fill="#e63232" text-anchor="start" stroke="#e63232" stroke-width="0.60" >1</text>
<g transform="translate(14,269) rotate(-90)">
<text x="0.00" y="0.00" font-size="16.5" font-family="Liberation Serif, serif" fill="#1a1a1a" text-anchor="start" textLength="26.60" lengthAdjust="spacingAndGlyphs" stroke="#1a1a1a" stroke-width="0.50" >log</text>
<text x="34.00" y="0.00" font-size="17.0" font-family="Liberation Serif, serif" fill="#1a1a1a" text-anchor="start" textLength="10.50" lengthAdjust="spacingAndGlyphs" stroke="#1a1a1a" stroke-width="0.50" >τ</text>
<text x="46.50" y="7.50" font-size="12.5" font-family="Liberation Sans, sans-serif" fill="#1a1a1a" text-anchor="start" textLength="10.00" lengthAdjust="spacingAndGlyphs" stroke="#1a1a1a" stroke-width="0.60" >X</text>
<text x="66.00" y="0.00" font-size="16.0" font-family="Liberation Sans, sans-serif" fill="#1a1a1a" text-anchor="start" textLength="43.00" lengthAdjust="spacingAndGlyphs" stroke="#1a1a1a" stroke-width="0.50" >(sec)</text>
</g>
</svg>
</body></html>
